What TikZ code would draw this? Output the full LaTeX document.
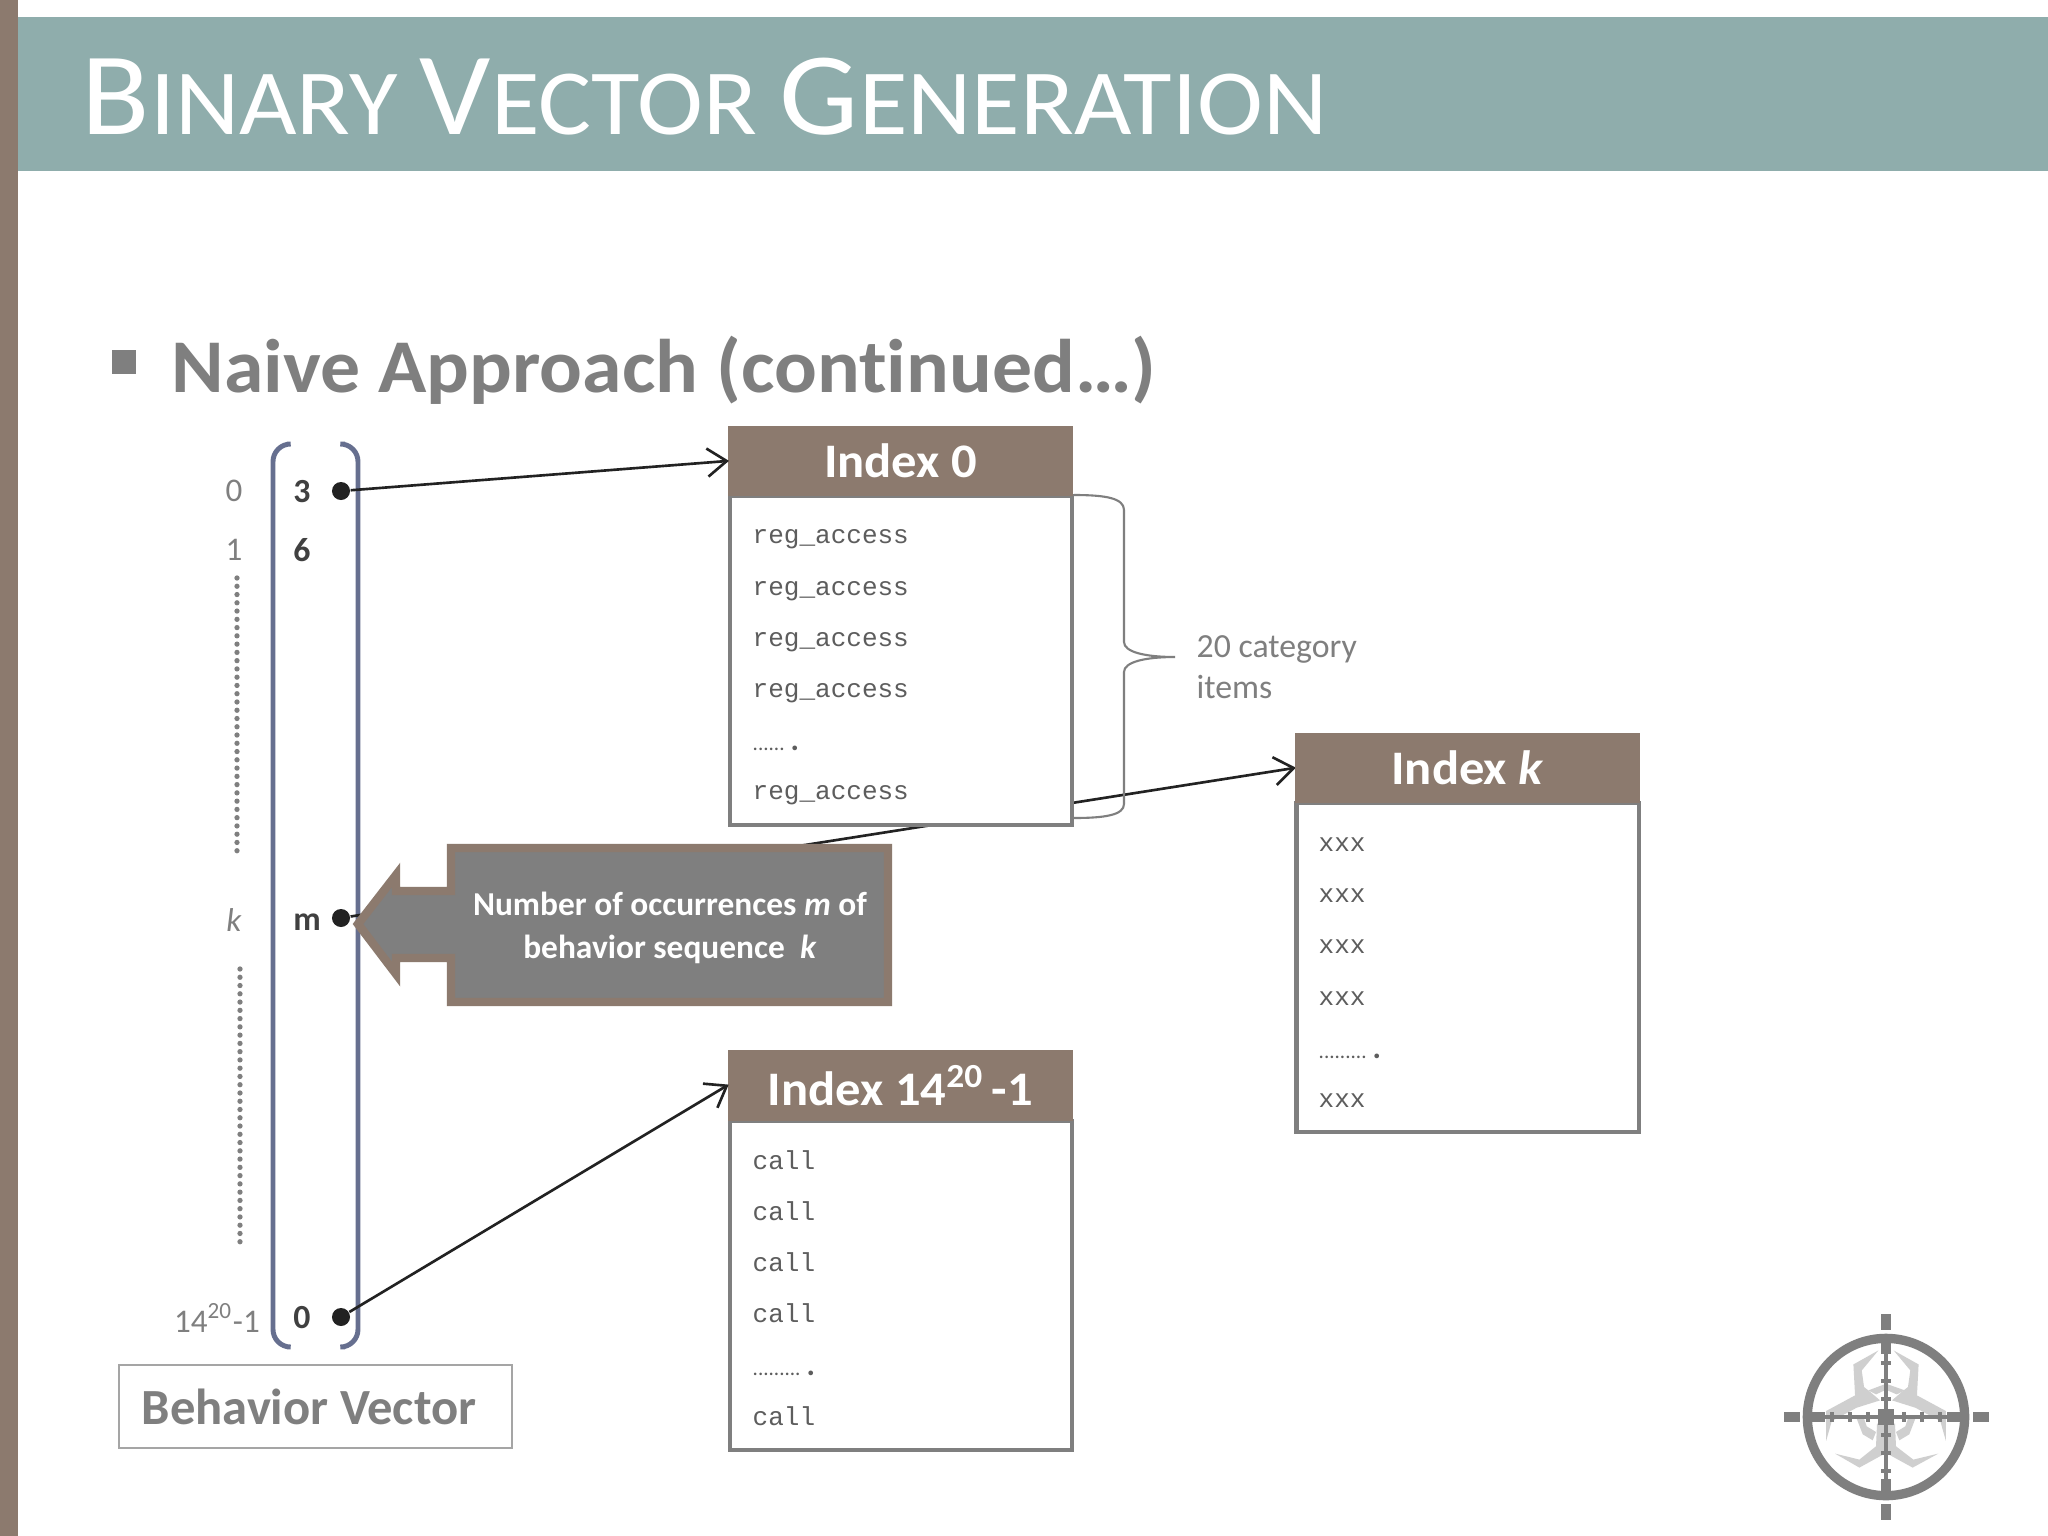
\documentclass[tikz,border=0pt]{standalone}
\usepackage{fontspec}
\setmainfont{Carlito}[Ligatures=NoCommon]
\newfontfamily\codefont{Liberation Mono}
\newfontfamily\titlefont{Carlito}[FakeStretch=1.066]
\newfontfamily\condfont{Carlito}[Ligatures=NoCommon,FakeStretch=1.05]
\usetikzlibrary{arrows.meta}
\definecolor{teal}{HTML}{8FADAC}
\definecolor{brownish}{HTML}{8C7A6E}
\definecolor{midgray}{HTML}{7F7F7F}
\definecolor{darkgray}{HTML}{404040}
\definecolor{bracketc}{HTML}{666F8F}
\definecolor{dotc}{HTML}{222222}
\definecolor{logolight}{HTML}{CFCFCF}
\newcommand{\fpx}[1]{\fontsize{#1}{#1}\selectfont}
\newcommand{\sixdots}{{\fpx{6pt}......}\,{\fpx{9pt}\bfseries.}}
\newcommand{\ninedots}{{\fpx{6pt}.........}\,{\fpx{9pt}\bfseries.}}
\tikzset{
  x=0.01cm,y=-0.01cm,
  header/.style={fill=brownish,draw=none,minimum width=3.45cm,minimum height=0.70cm,inner sep=0pt,text=white,font=\condfont\fpx{13.7pt}\bfseries},
  bodybox/.style={fill=white,draw=midgray,line width=1.2pt,minimum width=3.42cm,minimum height=3.29cm,inner sep=0pt,miter limit=10},
  codeline/.style={anchor=base west,inner sep=0pt,text=darkgray!85,font=\fpx{7.4pt}\codefont},
  dotsline/.style={anchor=base west,inner sep=0pt,text=darkgray!85},
  idx/.style={inner sep=0pt,text=midgray,font=\fpx{9.4pt}},
  val/.style={inner sep=0pt,text=darkgray,font=\fpx{9.6pt}\bfseries},
  vecdot/.style={circle,fill=dotc,inner sep=0pt,minimum size=0.18cm},
  link/.style={draw=dotc,line width=0.75pt,shorten >=-0.5pt,-{Straight Barb[length=5.5pt,width=8pt,line width=0.75pt]}},
  bracketline/.style={draw=bracketc,line width=1.4pt,rounded corners=5pt},
  dotline/.style={draw=midgray,line width=1.5pt,line cap=round,dash pattern=on 0pt off 2.35pt},
}
\begin{document}
\begin{tikzpicture}
\useasboundingbox (0,0) rectangle (2048,1536);
% slide
\fill[white] (0,0) rectangle (2048,1536);
\fill[brownish] (0,0) rectangle (18,1536);
\fill[teal] (18,17) rectangle (2048,171);
\node[anchor=base west,inner sep=0pt,text=white] (title) at (81,134) {\titlefont\fpx{33.5pt}B\fpx{26.5pt}INARY \fpx{33.5pt}V\fpx{26.5pt}ECTOR \fpx{33.5pt}G\fpx{26.5pt}ENERATION};
% bullet
\fill[midgray] (112,350) rectangle (136,374);
\node[anchor=base west,inner sep=0pt,text=midgray,font=\condfont\fpx{21.6pt}\bfseries] (sub) at (171,392) {Naive Approach (continued…)};
% vector
\draw[bracketline] (287,444) -- (273,444) -- (273,1347) -- (287,1347);
\draw[bracketline] (345,444) -- (358,444) -- (358,1347) -- (345,1347);
\node[idx] (i0) at (234,491) {0};
\node[idx] (i1) at (234,550) {1};
\node[idx] (ik) at (234,920) {\itshape k};
\node[idx] (in) at (217,1318) {14\textsuperscript{20}-1};
\node[val] (v0) at (302,492) {3};
\node[val] (v1) at (302,550) {6};
\node[val] (vk) at (307,922) {m};
\node[val] (vn) at (302,1318) {0};
\node[vecdot] (d0) at (341,491) {};
\node[vecdot] (dk) at (341,918) {};
\node[vecdot] (dn) at (341,1317) {};
\coordinate (da) at (237,578); \coordinate (db) at (237,855);
\coordinate (dc) at (240,969); \coordinate (dd) at (240,1249);
\draw[dotline] (da) -- (db);
\draw[dotline] (dc) -- (dd);
% behaviour vector label
\node[draw=midgray!70,line width=0.55pt,minimum width=3.93cm,minimum height=0.83cm,inner sep=0pt,text=midgray,font=\fpx{14.4pt}\bfseries] (bv) at (315.5,1406.5) {Behavior Vector\hspace*{0.13cm}};
% headers first so the hidden link runs behind the boxes
\node[header] (hk) at (1467.5,768) {Index \textit{k}};
\draw[link] (dk) -- (hk.west);
% Index 0
\node[bodybox] (b0) at (901,660.5) {};
\node[header] (h0) at (900.5,461) {Index 0};
\foreach \n/\y in {1/543,2/595,3/646,4/697,6/799}{
  \node[codeline] (a\n) at (752,\y) {reg\_access};
}
\node[dotsline] (a5) at (752,750) {\sixdots};
% Index k
\node[bodybox] (bk) at (1467.5,967.5) {};
\node[header] at (1467.5,768) {Index \textit{k}};
\foreach \n/\y in {1/851,2/902,3/953,4/1005,6/1107}{
  \node[codeline] (k\n) at (1318,\y) {xxx};
}
\node[dotsline] (k5) at (1318,1058) {\ninedots};
% Index 14^20-1
\node[bodybox] (bn) at (901,1285.5) {};
\node[header] (hn) at (900.5,1085.5) {Index 14\textsuperscript{20}\,-1};
\foreach \n/\y in {1/1169,2/1220,3/1271,4/1322,6/1425}{
  \node[codeline] (c\n) at (752,\y) {call};
}
\node[dotsline] (c5) at (752,1375) {\ninedots};
% links
\draw[link] (d0) -- (h0.west);
\draw[link] (dn) -- (hn.west);
% brace
\coordinate (bt) at (1074,495); \coordinate (bm) at (1175,657); \coordinate (bb) at (1074,818);
\draw[midgray,line width=0.6pt] (bt) .. controls (1105,495) and (1124,498) .. (1124,510)
  -- (1124,642) .. controls (1124,652) and (1145,657) .. (bm)
  .. controls (1145,657) and (1124,662) .. (1124,672)
  -- (1124,804) .. controls (1124,815) and (1105,818) .. (bb);
\node[anchor=base west,inner sep=0pt,align=left,text=midgray,font=\fpx{9.6pt}] (cat1) at (1196,657) {20 category};
\node[anchor=base west,inner sep=0pt,align=left,text=midgray,font=\fpx{9.6pt}] (cat2) at (1196,698) {items};
% callout
\draw[fill=midgray,draw=brownish,line width=2.4pt,miter limit=10]
  (451,848) -- (888,848) -- (888,1002) -- (451,1002) -- (451,958) -- (396,958) -- (396,974) -- (358,924) -- (396,875) -- (396,891) -- (451,891) -- cycle;
\node[text=white,align=center,inner sep=0pt,font=\fpx{9.5pt}\bfseries] (ct) at (670,928) {Number of occurrences \textit{m} of\\[2.6pt]behavior sequence ~\textit{k}};
% logo
\begin{scope}[shift={(1886,1417)},x=0.003333cm,y=-0.003333cm,shift={(-438,-380)}]
\fill[logolight] (415,180)--(340,222)--(345,315)--(258,362)--(258,452)--(275,392)--(350,352)--(420,330)--(385,300)--(372,290)--(365,240)--cycle;
\fill[logolight] (461,180)--(536,222)--(531,315)--(618,362)--(618,452)--(601,392)--(526,352)--(456,330)--(491,300)--(504,290)--(511,240)--cycle;
\fill[logolight] (385,300)--(438,280)--(495,300)--(470,312)--(438,298)--(408,312)--cycle;
\fill[logolight] (285,490)--(358,532)--(438,488)--(518,532)--(595,490)--(520,508)--(468,468)--(465,400)--(411,400)--(408,468)--(358,508)--cycle;
\fill[logolight] (350,385)--(368,432)--(398,450)--(408,425)--(380,408)--(372,385)--cycle;
\fill[logolight] (526,385)--(508,432)--(478,450)--(468,425)--(496,408)--(504,385)--cycle;
\draw[midgray,line width=2.65pt] (438,380) circle[radius=0.786cm];
\fill[midgray] (424,70) rectangle (452,118);
\fill[midgray] (424,640) rectangle (452,688);
\fill[midgray] (130,366) rectangle (180,394);
\fill[midgray] (698,366) rectangle (748,394);
\fill[midgray] (423,150) rectangle (453,192);
\fill[midgray] (423,565) rectangle (453,610);
\fill[midgray] (210,365) rectangle (255,395);
\fill[midgray] (622,365) rectangle (668,395);
\fill[midgray] (432,190) rectangle (444,570);
\fill[midgray] (250,374) rectangle (626,386);
\fill[midgray] (415,357) rectangle (462,403);
\foreach \d in {54,108,162}{
  \fill[midgray] (424,380-\d-6) rectangle (452,380-\d+6);
  \fill[midgray] (424,380+\d-6) rectangle (452,380+\d+6);
  \fill[midgray] (438-\d-6,366) rectangle (438-\d+6,394);
  \fill[midgray] (438+\d-6,366) rectangle (438+\d+6,394);
}
\end{scope}
\end{tikzpicture}
\end{document}
